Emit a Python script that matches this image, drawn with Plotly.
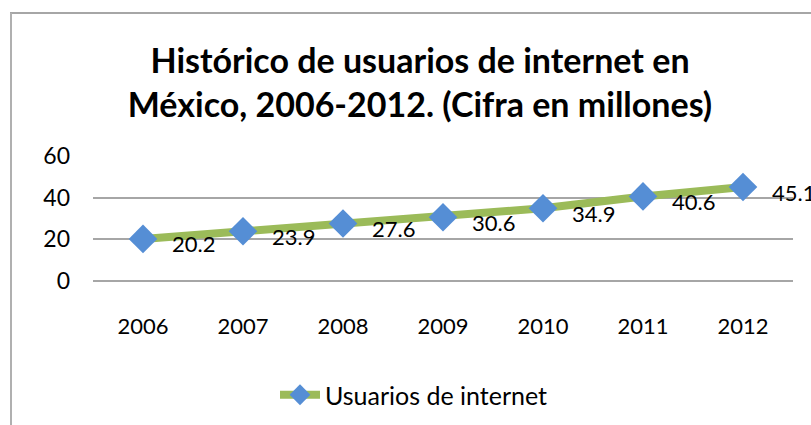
import plotly.graph_objects as go

years = ["2006", "2007", "2008", "2009", "2010", "2011", "2012"]
usuarios = [20.2, 23.9, 27.6, 30.6, 34.9, 40.6, 45.1]
labels = ["20.2", "23.9", "27.6", "30.6", "34.9", "40.6", "45.1"]
y_ticks = [0, 20, 40, 60]
series_name = "Usuarios de internet"
title_text = "Histórico de usuarios de internet en<br>México, 2006-2012. (Cifra en millones)"

FONT = "Lato"
W, H = 811, 425
L, R, T, B = 93, 18, 156, 144

fig = go.Figure()
fig.add_trace(go.Scatter(
    x=years, y=usuarios, name=series_name, mode="lines+markers",
    line=dict(color="#9BBB59", width=8),
    marker=dict(symbol="diamond", size=22, color="#558ED5",
                line=dict(width=0)),
    showlegend=True,
))

for i, (v, t) in enumerate(zip(usuarios, labels)):
    fig.add_annotation(x=i, y=v, xref="x", yref="y", text=t, showarrow=False,
                       xanchor="left", yanchor="middle", xshift=27, yshift=-5,
                       font=dict(family=FONT, size=22, color="#000000"))

pw, ph = W - L - R, H - T - B
def px_x(p):
    return (p - L) / pw
def px_y(p):
    return (H - B - p) / ph

# chart frame border (left and top edges visible)
fig.add_shape(type="line", xref="paper", yref="paper",
              x0=px_x(10), x1=px_x(815), y0=px_y(13), y1=px_y(13),
              line=dict(color="#A6A6A6", width=2))
fig.add_shape(type="line", xref="paper", yref="paper",
              x0=px_x(11), x1=px_x(11), y0=px_y(13), y1=px_y(430),
              line=dict(color="#B0B0B0", width=2))

fig.update_layout(
    width=W, height=H,
    margin=dict(l=L, r=R, t=T, b=B),
    paper_bgcolor="white", plot_bgcolor="white",
    title=dict(text=title_text, x=420 / W, xanchor="center", xref="container",
               y=1 - 73 / H, yanchor="middle", yref="container",
               font=dict(family=FONT, size=34, color="#000000", weight="bold")),
    font=dict(family=FONT, color="#000000"),
    legend=dict(orientation="h", x=414 / W, xanchor="center", xref="container",
                y=1 - 395 / H, yanchor="middle", yref="container",
                font=dict(family=FONT, size=25, color="#000000"),
                itemwidth=40),
    showlegend=True,
)
fig.update_xaxes(type="category", range=[-0.5, 6.5], showgrid=False,
                 showline=False, ticks="", ticklabelstandoff=30,
                 tickfont=dict(family=FONT, size=22, color="#000000"),
                 fixedrange=True)
fig.update_yaxes(range=[0, 60], tickvals=y_ticks, showgrid=True,
                 gridcolor="#A6A6A6", gridwidth=2, zeroline=True,
                 zerolinecolor="#A6A6A6", zerolinewidth=2, showline=False,
                 ticks="", ticklabelstandoff=22,
                 tickfont=dict(family=FONT, size=23, color="#000000"),
                 fixedrange=True)

fig.write_html("out.html", config={"displayModeBar": False},
               post_script="document.body.style.margin='0';")
